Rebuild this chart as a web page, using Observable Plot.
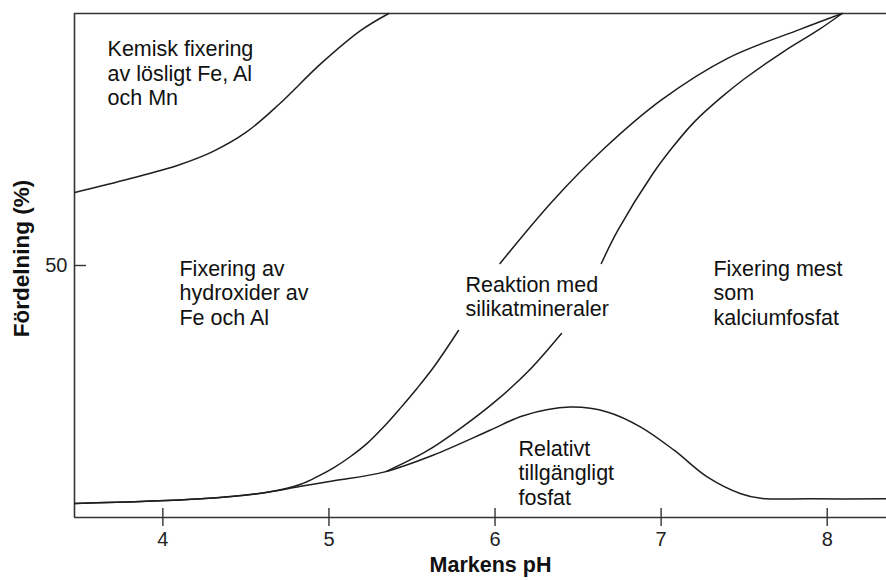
<!DOCTYPE html>
<html>
<head>
<meta charset="utf-8">
<script src="https://cdn.jsdelivr.net/npm/d3@7"></script>
<script src="https://cdn.jsdelivr.net/npm/@observablehq/plot@0.6"></script>
<style>
  html, body { margin: 0; padding: 0; background: #fff; }
  #chart svg { display: block; font-family: "Liberation Sans", Arial, Helvetica, sans-serif; }
</style>
</head>
<body>
<div id="chart"></div>
<script>
// pH axis
const xDomain = [3.468, 8.357];
const xTicks = [4, 5, 6, 7, 8];
const yTicks = [50];

// Curve A: upper-left boundary (Kemisk fixering)
const curveA_ph = [3.47, 3.8, 4.1, 4.3, 4.5, 4.7, 4.95, 5.19, 5.36];
const curveA_pct = [64.5, 67.2, 70.0, 72.6, 76.4, 82.0, 90.0, 96.6, 100];

// Curve B: left boundary of silicate region (null = gap behind the label)
const curveB_ph = [3.47, 4.23, 4.63, 4.83, 4.93, 5.03, 5.13, 5.23, 5.33, 5.43, 5.53, 5.63, 5.78, null, 6.03, 6.35, 6.66, 7.0, 7.4, 7.84, 8.09];
const curveB_pct = [2.8, 3.7, 5.0, 6.6, 8.1, 9.9, 12.1, 14.7, 18.0, 21.7, 25.6, 29.8, 37.1, null, 50.4, 62.9, 73.3, 82.8, 91.1, 96.9, 100];

// Curve C: right boundary of silicate region (null = gap behind the label)
const curveC_ph = [5.35, 5.59, 5.8, 6.0, 6.2, 6.4, null, 6.64, 6.74, 6.95, 7.07, 7.2, 7.36, 7.5, 7.74, 7.95, 8.09];
const curveC_pct = [9.2, 13.2, 17.9, 23.0, 29.0, 36.5, null, 50.4, 57.0, 68.2, 73.5, 78.5, 83.3, 87.0, 92.5, 96.8, 100];

// Curve D: available phosphate (baseline + bump)
const curveD_ph = [3.47, 4.23, 4.63, 4.83, 5.03, 5.33, 5.63, 5.97, 6.17, 6.45, 6.68, 6.88, 7.08, 7.28, 7.48, 7.6, 7.9, 8.36];
const curveD_pct = [2.8, 3.7, 5.0, 6.2, 7.3, 9.0, 12.4, 17.3, 20.2, 21.9, 20.9, 17.9, 13.3, 8.0, 4.7, 3.8, 3.7, 3.7];

// Region labels
const labelText = [
  "Kemisk fixering\nav lösligt Fe, Al\noch Mn",
  "Fixering av\nhydroxider av\nFe och Al",
  "Reaktion med\nsilikatmineraler",
  "Fixering mest\nsom\nkalciumfosfat",
  "Relativt\ntillgängligt\nfosfat"
];
const labelPh = [3.667, 4.10, 5.822, 7.315, 6.141];
const labelPct = [95.0, 51.4, 48.2, 51.4, 15.7];

const xTitle = "Markens pH";
const yTitle = "Fördelning (%)";

const toPts = (xs, ys) => xs.map((x, i) => ({x: x ?? NaN, y: ys[i] ?? NaN}));
const curves = [
  toPts(curveA_ph, curveA_pct),
  toPts(curveB_ph, curveB_pct),
  toPts(curveC_ph, curveC_pct),
  toPts(curveD_ph, curveD_pct)
];
const labels = labelText.map((t, i) => ({text: t, x: labelPh[i], y: labelPct[i]}));

const ink = "#1e1e1e";
const frame = "#333";

const chart = Plot.plot({
  width: 886,
  height: 580,
  marginTop: 13,
  marginBottom: 63,
  marginLeft: 74,
  marginRight: 0,
  style: {fontFamily: '"Liberation Sans", Arial, sans-serif', background: "#fff", color: "#222"},
  x: {domain: xDomain, axis: null},
  y: {domain: [0, 100], axis: null},
  marks: [
    // frame lines
    Plot.ruleY([0, 100], {stroke: frame, strokeWidth: 1.6}),
    Plot.ruleX([xDomain[0]], {y1: 0, y2: 100, stroke: frame, strokeWidth: 1.6}),
    // ticks
    Plot.ruleX(xTicks, {y1: -1.8, y2: 1.8, stroke: frame, strokeWidth: 1.4}),
    Plot.ruleY(yTicks, {x1: xDomain[0], x2: xDomain[0] + 0.072, stroke: frame, strokeWidth: 1.4}),
    Plot.axisX({ticks: xTicks, tickFormat: "d", tickSize: 0, tickPadding: 14, fontSize: 20, label: null, fill: "#222"}),
    Plot.axisY({ticks: yTicks, tickFormat: "d", tickSize: 0, tickPadding: 7, fontSize: 20, label: null, fill: "#222"}),
    // curves
    ...curves.map(c => Plot.line(c, {x: "x", y: "y", curve: "catmull-rom", stroke: ink, strokeWidth: 1.5})),
    // region labels
    Plot.text(labels, {x: "x", y: "y", text: "text", textAnchor: "start", lineAnchor: "top",
      lineHeight: 1.14, fontSize: 21.5, fill: "#111"}),
    // axis titles
    Plot.text([xTitle], {frameAnchor: "bottom", textAnchor: "middle", lineAnchor: "middle", dx: 10, dy: 48,
      fontSize: 21.5, fontWeight: "bold", fill: "#111"}),
    Plot.text([yTitle], {frameAnchor: "left", textAnchor: "middle", lineAnchor: "middle", dx: -53, dy: -7,
      rotate: -90, fontSize: 22.5, fontWeight: "bold", fill: "#111"})
  ]
});
document.getElementById("chart").appendChild(chart);
</script>
</body>
</html>
